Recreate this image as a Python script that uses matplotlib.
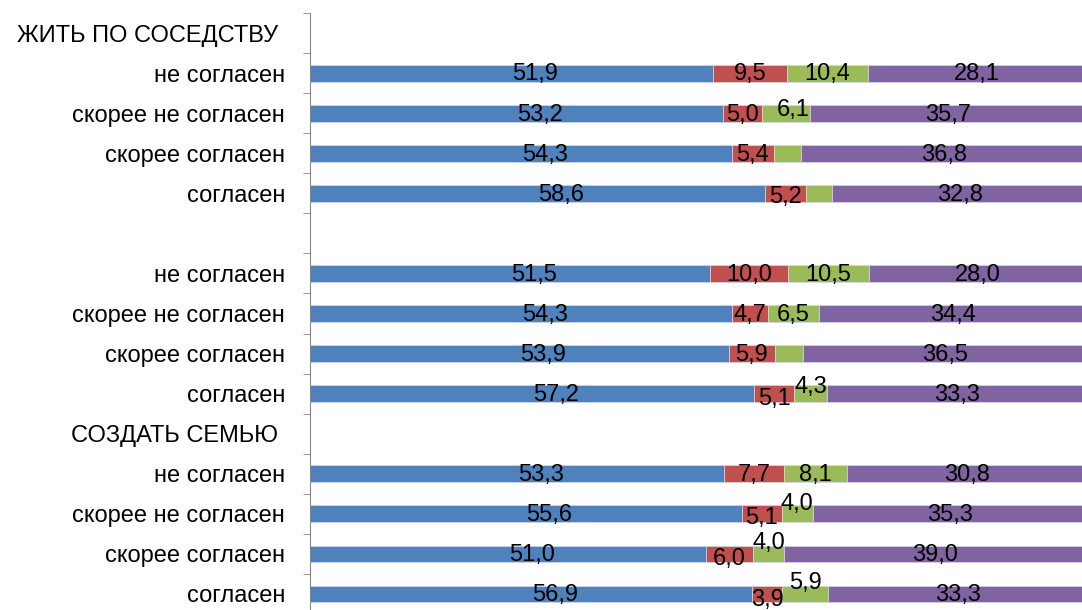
import numpy as np
import matplotlib.pyplot as plt

plt.rcParams['font.family'] = ['Liberation Sans', 'DejaVu Sans']

# rows from top to bottom; None = header / empty row without a bar
labels = ['ЖИТЬ ПО СОСЕДСТВУ ',
          'не согласен', 'скорее не согласен', 'скорее согласен', 'согласен',
          '',
          'не согласен', 'скорее не согласен', 'скорее согласен', 'согласен',
          'СОЗДАТЬ СЕМЬЮ ',
          'не согласен', 'скорее не согласен', 'скорее согласен', 'согласен']

blue = [None, 51.9, 53.2, 54.3, 58.6, None, 51.5, 54.3, 53.9, 57.2, None, 53.3, 55.6, 51.0, 56.9]
red = [None, 9.5, 5.0, 5.4, 5.2, None, 10.0, 4.7, 5.9, 5.1, None, 7.7, 5.1, 6.0, 3.9]
green = [None, 10.4, 6.1, 3.5, 3.4, None, 10.5, 6.5, 3.7, 4.3, None, 8.1, 4.0, 4.0, 5.9]
purple = [None, 28.1, 35.7, 36.8, 32.8, None, 28.0, 34.4, 36.5, 33.3, None, 30.8, 35.3, 39.0, 33.3]

series = [blue, red, green, purple]
colors = ['#4F81BD', '#C0504D', '#9BBB59', '#8064A2']

# labels hidden in the reference (row, series)
hidden = {(3, 2), (4, 2), (8, 2)}
# manual label nudges in points (row, series): (dx, dy)
nudge = {(2, 2): (5, 3), (9, 2): (0, 6), (12, 2): (0, 8), (13, 2): (0, 9),
         (14, 2): (0, 9), (9, 1): (0, -3), (12, 1): (0, -2), (13, 1): (0, -3),
         (14, 1): (0, -3), (4, 1): (0, -2)}

fig = plt.figure(figsize=(10.82, 6.10), dpi=100)
ax = fig.add_axes([0.2865, -0.0066, 0.7181, 0.9853])

y = np.arange(len(labels))
left = np.zeros(len(labels))
for s, (vals, c) in enumerate(zip(series, colors)):
    v = np.array([np.nan if x is None else x for x in vals])
    w = np.nan_to_num(v)
    ax.barh(y, w, left=left, height=0.42, color=c, edgecolor='#D8D8E8', linewidth=0.5)
    for i, x in enumerate(vals):
        if x is None or (i, s) in hidden:
            continue
        dx, dy = nudge.get((i, s), (0, 0))
        if s == 0:
            dx += 17
        ax.annotate(f'{x:.1f}'.replace('.', ','), (left[i] + x / 2, i),
                    xytext=(dx, dy - 1), textcoords='offset points',
                    ha='center', va='center', fontsize=17, color='black')
    left += w

ax.set_xlim(0, 100)
ax.set_ylim(len(labels) - 0.5, -0.5)
ax.set_yticks(y)
ax.set_yticklabels(labels, fontsize=17)
ax.set_yticks(np.arange(len(labels) + 1) - 0.5, minor=True)
ax.tick_params(axis='y', which='major', length=0, pad=18)
ax.tick_params(axis='y', which='minor', length=5, color='#868686', direction='out')
ax.set_xticks([])
for sp in ['top', 'right', 'bottom']:
    ax.spines[sp].set_visible(False)
ax.spines['left'].set_color('#868686')

fig.savefig('out.png', dpi=100)
